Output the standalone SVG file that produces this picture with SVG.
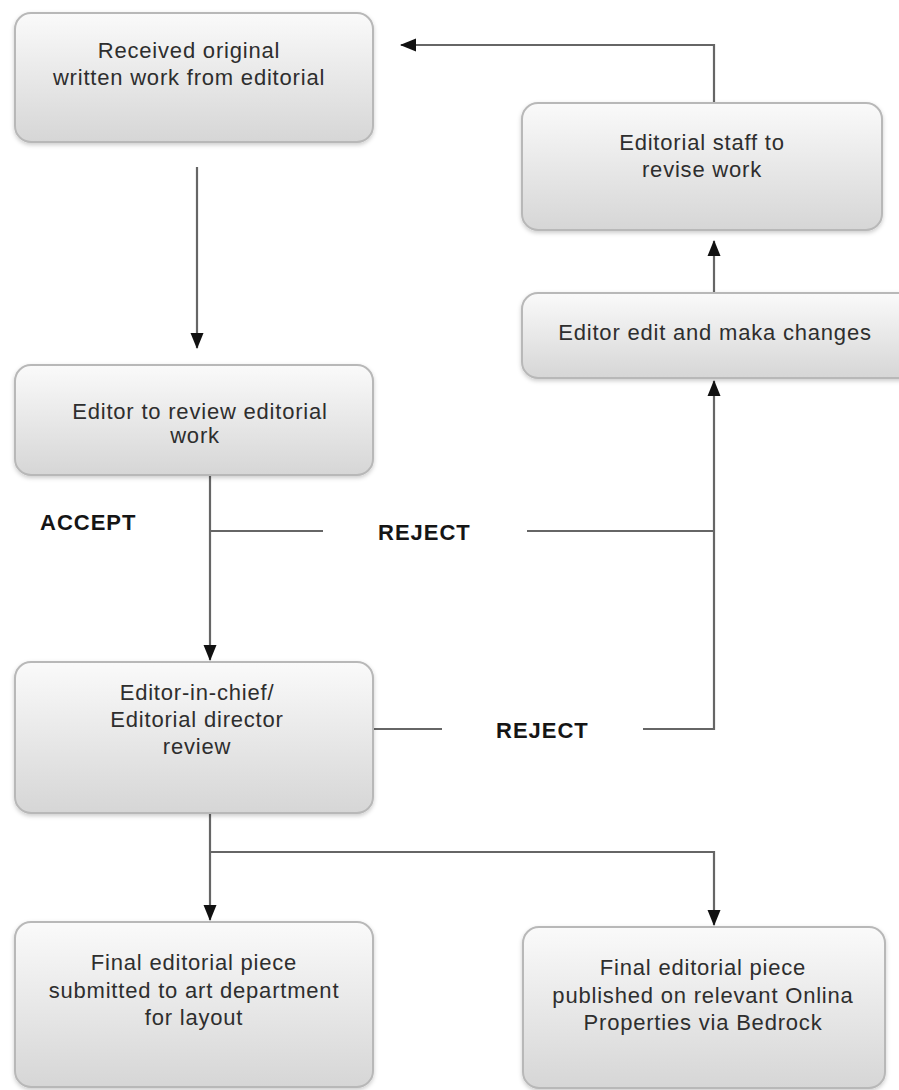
<svg xmlns="http://www.w3.org/2000/svg" width="899" height="1090" viewBox="0 0 899 1090">
<style>
.box{fill:url(#g);stroke:#b8b8b8;stroke-width:2;filter:url(#sh)}
.t{font-family:"Liberation Sans",Arial,sans-serif;font-size:22px;fill:#2e2e2e;text-anchor:middle;letter-spacing:0.8px}
.lbl{font-family:"Liberation Sans",Arial,sans-serif;font-size:22px;font-weight:bold;fill:#151515;letter-spacing:1px}
.c{fill:none;stroke:#666;stroke-width:2.2}
</style>
<defs>
<linearGradient id="g" x1="0" y1="0" x2="0" y2="1">
<stop offset="0" stop-color="#fafafa"/>
<stop offset="1" stop-color="#d6d6d6"/>
</linearGradient>
<filter id="sh" x="-5%" y="-5%" width="110%" height="115%">
<feDropShadow dx="0" dy="2" stdDeviation="2" flood-color="#000" flood-opacity="0.2"/>
</filter>
<marker id="ah" markerUnits="userSpaceOnUse" markerWidth="16" markerHeight="16" viewBox="0 0 16 16" refX="15" refY="8" orient="auto">
<path d="M0,1.5 L16,8 L0,14.5 Z" fill="#111"/>
</marker>
</defs>
<rect width="899" height="1090" fill="#fff"/>

<g id="connectors">
<path class="c" d="M197,167 V348" marker-end="url(#ah)"/>
<path class="c" d="M210,475 V660" marker-end="url(#ah)"/>
<path class="c" d="M210,531 H323"/>
<path class="c" d="M527,531 H714"/>
<path class="c" d="M373,729 H442"/>
<path class="c" d="M643,729 H714 V381" marker-end="url(#ah)"/>
<path class="c" d="M714,293 V241" marker-end="url(#ah)"/>
<path class="c" d="M714,103 V45 H401" marker-end="url(#ah)"/>
<path class="c" d="M210,813 V920" marker-end="url(#ah)"/>
<path class="c" d="M210,852 H714 V925" marker-end="url(#ah)"/>
</g>

<g id="labels">
<text class="lbl" x="40" y="530">ACCEPT</text>
<text class="lbl" x="378" y="540">REJECT</text>
<text class="lbl" x="496" y="738">REJECT</text>
</g>

<g id="n1">
<rect class="box" x="15" y="13" width="358" height="129" rx="16"/>
<text class="t" x="189" y="58">Received original</text>
<text class="t" x="189" y="85">written work from editorial</text>
</g>
<g id="n2">
<rect class="box" x="522" y="103" width="360" height="127" rx="16"/>
<text class="t" x="702" y="150">Editorial staff to</text>
<text class="t" x="702" y="177">revise work</text>
</g>
<g id="n3">
<rect class="box" x="522" y="293" width="400" height="85" rx="16"/>
<text class="t" x="715" y="340">Editor edit and maka changes</text>
</g>
<g id="n4">
<rect class="box" x="15" y="365" width="358" height="110" rx="16"/>
<text class="t" x="200" y="419">Editor to review editorial</text>
<text class="t" x="195" y="443">work</text>
</g>
<g id="n5">
<rect class="box" x="15" y="662" width="358" height="151" rx="16"/>
<text class="t" x="197" y="700">Editor-in-chief/</text>
<text class="t" x="197" y="727">Editorial director</text>
<text class="t" x="197" y="754">review</text>
</g>
<g id="n6">
<rect class="box" x="15" y="922" width="358" height="165" rx="16"/>
<text class="t" x="194" y="970">Final editorial piece</text>
<text class="t" x="194" y="998">submitted to art department</text>
<text class="t" x="194" y="1025">for layout</text>
</g>
<g id="n7">
<rect class="box" x="523" y="927" width="362" height="161" rx="16"/>
<text class="t" x="703" y="975">Final editorial piece</text>
<text class="t" x="703" y="1003">published on relevant Onlina</text>
<text class="t" x="703" y="1030">Properties via Bedrock</text>
</g>
</svg>
